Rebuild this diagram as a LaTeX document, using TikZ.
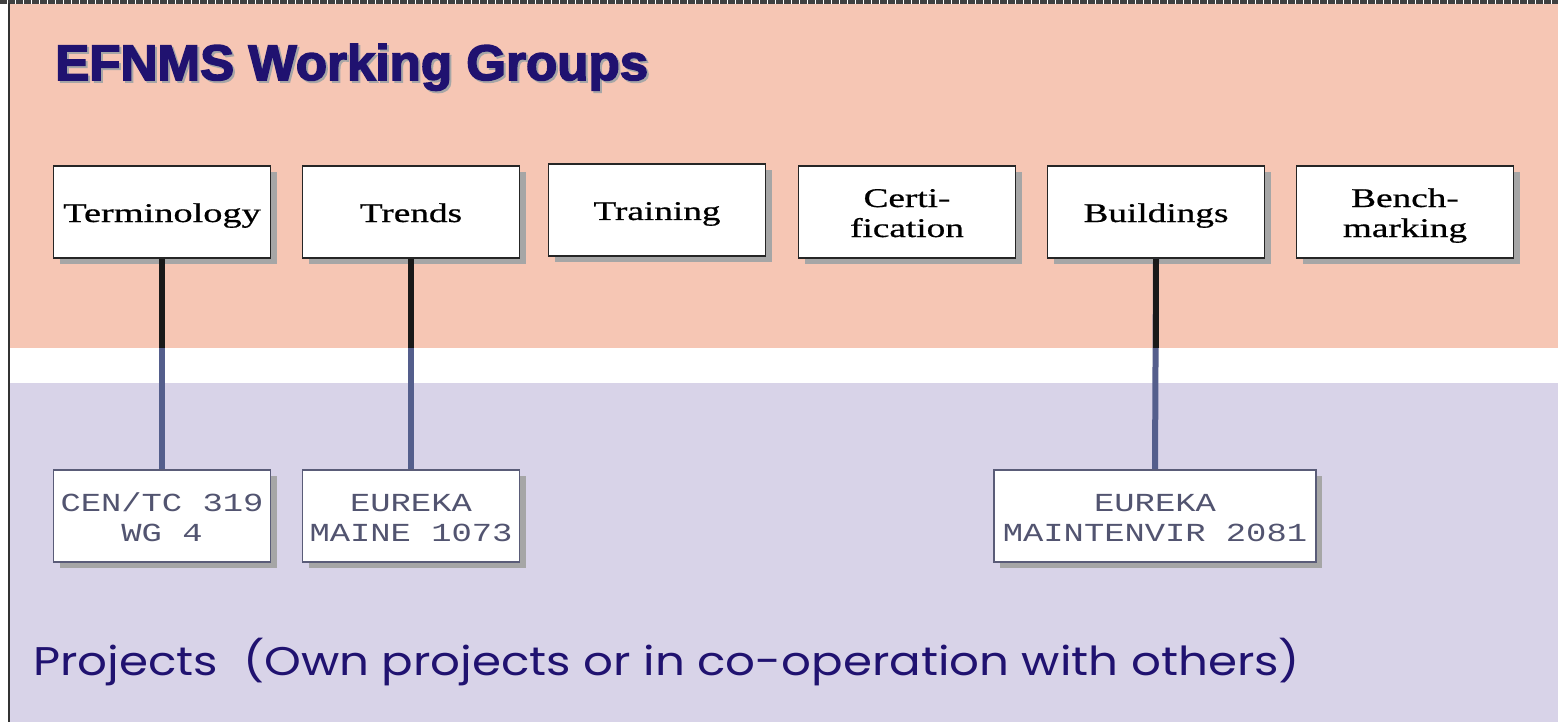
\documentclass[tikz,border=0pt]{standalone}
\usepackage{fontspec}
\usepackage{graphicx}
\setmainfont{Liberation Serif}
\newfontfamily\boxfont[FakeBold=0.6]{Liberation Serif}
\newfontfamily\codefont{Liberation Mono}
\newfontfamily\headfont[FakeBold=3]{Liberation Sans}
\newfontfamily\notefont{Poppins}
\usetikzlibrary{shadows}

\definecolor{salmon}{RGB}{246,198,180}
\definecolor{lavender}{RGB}{216,211,232}
\definecolor{navy}{RGB}{32,18,112}
\definecolor{slateline}{RGB}{84,94,140}
\definecolor{projtext}{RGB}{82,84,112}
\definecolor{projedge}{RGB}{90,92,120}

% horizontally widened, centred block of lines, set a little low in its box
\newcommand\wide[2][1.38]{\raisebox{-4pt}[\height][\depth]{\scalebox{#1}[1]{\begin{tabular}{@{}c@{}}#2\end{tabular}}}}

\begin{document}
\begin{tikzpicture}[x=1pt,y=-1pt,
  groupbox/.style={draw=black!85, line width=1.6pt, fill=white,
    minimum width=217pt, minimum height=92pt, inner sep=0pt,
    font=\boxfont\fontsize{27}{30}\selectfont,
    drop shadow={shadow xshift=6pt, shadow yshift=-6pt, fill=black!35, opacity=1}},
  projbox/.style={draw=projedge, line width=1.6pt, fill=white,
    minimum height=92pt, inner sep=0pt, text=projtext,
    font=\codefont\fontsize{26}{30}\selectfont,
    drop shadow={shadow xshift=6pt, shadow yshift=-6pt, fill=black!35, opacity=1}},
  linkup/.style={line width=6pt, draw=black!90},
  linkdown/.style={line width=6pt, draw=slateline}
]
\useasboundingbox (0,0) rectangle (1558,722);

% background bands
\fill[white] (0,0) rectangle (1558,722);
\fill[salmon] (9,4) rectangle (1558,348);
\fill[lavender] (9,383) rectangle (1558,722);
\coordinate (bandedge) at (0,348);

% frame edges
\draw[black!75, line width=4pt, dash pattern=on 7pt off 1pt] (0,2) -- (1558,2);
\draw[black!80, line width=2pt] (9,3) -- (9,722);

% heading
\node[anchor=base west, inner sep=0pt, text=black!35, font=\headfont\bfseries\fontsize{50}{55}\selectfont]
  (headshadow) at (57,82) {\resizebox{593pt}{\height}{EFNMS Working Groups}};
\node[anchor=base west, inner sep=0pt, text=navy, font=\headfont\bfseries\fontsize{50}{55}\selectfont]
  (head) at (55,80) {\resizebox{593pt}{\height}{EFNMS Working Groups}};

% working groups
\node[groupbox] (term)  at (162,212)  {\wide[1.42]{Terminology}};
\node[groupbox] (trend) at (411,212)  {\wide{Trends}};
\node[groupbox] (train) at (657,210)  {\wide{Training}};
\node[groupbox] (cert)  at (907,212)  {\wide{Certi-\\fication}};
\node[groupbox] (build) at (1156,212) {\wide{Buildings}};
\node[groupbox] (bench) at (1405,212) {\wide{Bench-\\marking}};

% projects
\node[projbox, minimum width=217pt] (cen)   at (162,516)  {\wide[1.3]{CEN/TC 319\\WG 4}};
\node[projbox, minimum width=217pt] (maine) at (411,516)  {\wide[1.3]{EUREKA\\MAINE 1073}};
\node[projbox, minimum width=322pt] (mtv)   at (1155,516) {\wide[1.3]{EUREKA\\MAINTENVIR 2081}};

% connectors
\draw[linkdown] (term.south)  -- (cen.north);
\draw[linkdown] (trend.south) -- (maine.north);
\draw[linkdown] (build.south) -- (mtv.north);
\draw[linkup] (term.south)  -- (term.south  |- bandedge);
\draw[linkup] (trend.south) -- (trend.south |- bandedge);
\draw[linkup] (build.south) -- (build.south |- bandedge);

% caption
\node[anchor=base west, inner sep=0pt, text=navy, font=\notefont\fontsize{40}{46}\selectfont]
  (caption) at (33,675) {\resizebox{1267pt}{\height}{Projects\ \ (Own projects or in co-operation with others)}};
\end{tikzpicture}
\end{document}
